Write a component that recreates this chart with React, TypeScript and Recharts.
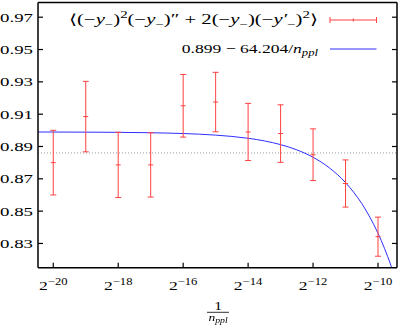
import {
    ComposedChart,
    ErrorBar,
    Legend,
    Line,
    ReferenceLine,
    Scatter,
    XAxis,
    YAxis,
} from "recharts";

// exponents n of 1/n_ppl = 2^n
export const powers = [-20, -19, -18, -17, -16, -15, -14, -13, -12, -11, -10];
export const meanValues = [
    0.880, 0.9085, 0.8786, 0.8786, 0.9152, 0.9175, 0.899, 0.898, 0.8849, 0.8671, 0.8342,
];
export const errorValues = [
    0.020, 0.0218, 0.0202, 0.0199, 0.0194, 0.0184, 0.0177, 0.0178, 0.016, 0.0146, 0.0121,
];

// fitted curve
export const fitPowers = [
    -20.47, -20, -19, -18, -17, -16, -15, -14, -13.5, -13, -12.5, -12, -11.5, -11, -10.5,
    -10.25, -10, -9.9, -9.8, -9.7, -9.6, -9.58,
];
export const fitValues = [
    0.89896, 0.89894, 0.89888, 0.89876, 0.89851, 0.89802, 0.89704, 0.89508, 0.89346,
    0.89116, 0.88792, 0.88333, 0.87683, 0.86765, 0.85467, 0.84628, 0.8363, 0.8318,
    0.82697, 0.8218, 0.81626, 0.81503,
];

export const xTicks = [-20, -18, -16, -14, -12, -10];
export const yTicks = [0.83, 0.85, 0.87, 0.89, 0.91, 0.93, 0.95, 0.97];
export const dottedLevel = 0.886;

const points = powers.map((x, i) => ({ x, y: meanValues[i], err: errorValues[i] }));
const fitCurve = fitPowers.map((x, i) => ({ x, fit: fitValues[i] }));

const SERIF = "'Liberation Serif', 'DejaVu Serif', serif";
const SX = 1.35;
const RED = "#ff4242";
const BLUE = "#2f2fff";
const X_DOMAIN: [number, number] = [-20.47, -9.415];
const Y_DOMAIN: [number, number] = [0.815, 0.9791];

type Seg = { t: string; it?: boolean; pos?: "sub" | "sup" };

function MathText({ segs, x, y, size = 13, anchor = "end", sx = SX }: any) {
    let cur = 0;
    return (
        <text
            transform={`translate(${x},${y}) scale(${sx},1)`}
            textAnchor={anchor}
            fontFamily={SERIF}
            fill="#000"
        >
            {segs.map((s: Seg, i: number) => {
                const target = s.pos === "sub" ? size * 0.25 : s.pos === "sup" ? -size * 0.4 : 0;
                const dy = target - cur;
                cur = target;
                return (
                    <tspan
                        key={i}
                        dy={dy}
                        fontStyle={s.it ? "italic" : "normal"}
                        fontSize={s.pos ? size * 0.72 : size}
                    >
                        {s.t}
                    </tspan>
                );
            })}
        </text>
    );
}

const dataLabel: Seg[] = [
    { t: "⟨(−" }, { t: "y", it: true }, { t: "−", pos: "sub" }, { t: ")" }, { t: "2", pos: "sup" },
    { t: "(−" }, { t: "y", it: true }, { t: "−", pos: "sub" }, { t: ")″ + 2(−" },
    { t: "y", it: true }, { t: "−", pos: "sub" }, { t: ")(−" }, { t: "y′", it: true },
    { t: "−", pos: "sub" }, { t: ")" }, { t: "2", pos: "sup" }, { t: "⟩" },
];
const fitLabel: Seg[] = [
    { t: "0.899 − 64.204/" }, { t: "n", it: true }, { t: "ppl", it: true, pos: "sub" },
];

function renderLegend() {
    return (
        <svg width={399} height={60} style={{ display: "block" }}>
            <MathText segs={dataLabel} x={318} y={24} size={14} sx={1.48} />
            <line x1={330} x2={376.5} y1={20} y2={20} stroke={RED} />
            <line x1={330} x2={330} y1={17} y2={23} stroke={RED} />
            <line x1={376.5} x2={376.5} y1={17} y2={23} stroke={RED} />
            <line x1={353.3} x2={353.3} y1={18.5} y2={21.5} stroke={RED} />
            <MathText segs={fitLabel} x={318} y={53} />
            <line x1={330} x2={376.5} y1={49} y2={49} stroke={BLUE} />
        </svg>
    );
}

function BottomTick({ x, y, payload }: any) {
    return (
        <g>
            <line x1={x} x2={x} y1={y} y2={y - 5} stroke="#000" strokeWidth={1.2} />
            <MathText
                segs={[{ t: "2" }, { t: "\u2212" + Math.abs(payload.value), pos: "sup" }]}
                x={x}
                y={y + 22.3}
                anchor="middle"
            />
        </g>
    );
}

function TopTick({ x, y }: any) {
    return <line x1={x} x2={x} y1={y} y2={y + 5} stroke="#000" strokeWidth={1.2} />;
}

function LeftTick({ x, y, payload }: any) {
    return (
        <g>
            <line x1={x} x2={x + 5} y1={y} y2={y} stroke="#000" strokeWidth={1.2} />
            <text
                transform={`translate(${x - 5},${y + 4.5}) scale(1.45,1)`}
                textAnchor="end"
                fontFamily={SERIF}
                fontSize={13}
                fill="#000"
            >
                {payload.value.toFixed(2)}
            </text>
        </g>
    );
}

function RightTick({ x, y }: any) {
    return <line x1={x} x2={x - 5} y1={y} y2={y} stroke="#000" strokeWidth={1.2} />;
}

function Dash({ cx, cy }: any) {
    return <line x1={cx - 2.5} x2={cx + 2.5} y1={cy} y2={cy} stroke={RED} />;
}

export default function App() {
    return (
        <div
            style={{
                position: "fixed",
                left: 0,
                top: 0,
                width: 399,
                height: 325,
                background: "#fff",
            }}
        >
            <ComposedChart
                width={399}
                height={325}
                margin={{ top: 0, right: 0, bottom: 0, left: 0 }}
            >
                <XAxis
                    dataKey="x"
                    type="number"
                    domain={X_DOMAIN}
                    ticks={xTicks}
                    allowDataOverflow
                    height={57.3}
                    tickSize={0}
                    tickMargin={0}
                    tickLine={false}
                    tick={<BottomTick />}
                    axisLine={{ stroke: "#000", strokeWidth: 1.5 }}
                />
                <XAxis
                    xAxisId="top"
                    orientation="top"
                    type="number"
                    domain={X_DOMAIN}
                    ticks={xTicks}
                    allowDataOverflow
                    height={2.5}
                    tickSize={0}
                    tickMargin={0}
                    tickLine={false}
                    tick={<TopTick />}
                    axisLine={{ stroke: "#000", strokeWidth: 1.5 }}
                />
                <YAxis
                    type="number"
                    domain={Y_DOMAIN}
                    ticks={yTicks}
                    allowDataOverflow
                    width={38}
                    tickSize={0}
                    tickMargin={0}
                    tickLine={false}
                    tick={<LeftTick />}
                    axisLine={{ stroke: "#000", strokeWidth: 1.5 }}
                />
                <YAxis
                    yAxisId="right"
                    orientation="right"
                    type="number"
                    domain={Y_DOMAIN}
                    ticks={yTicks}
                    allowDataOverflow
                    width={2}
                    tickSize={0}
                    tickMargin={0}
                    tickLine={false}
                    tick={<RightTick />}
                    axisLine={{ stroke: "#000", strokeWidth: 1.5 }}
                />
                <ReferenceLine
                    y={dottedLevel}
                    stroke="#999"
                    strokeDasharray="1 2"
                />
                <Line
                    data={fitCurve}
                    dataKey="fit"
                    type="monotone"
                    stroke={BLUE}
                    strokeWidth={1}
                    dot={false}
                    isAnimationActive={false}
                />
                <Scatter
                    data={points}
                    dataKey="y"
                    shape={<Dash />}
                    isAnimationActive={false}
                >
                    <ErrorBar
                        dataKey="err"
                        direction="y"
                        width={3}
                        stroke={RED}
                        strokeWidth={1}
                        isAnimationActive={false}
                    />
                </Scatter>
                <Legend
                    layout="horizontal"
                    verticalAlign="middle"
                    align="center"
                    wrapperStyle={{ top: 0, left: 0, width: 399, height: 60 }}
                    content={renderLegend}
                />
            </ComposedChart>
            <svg
                width={399}
                height={40}
                style={{ position: "absolute", left: 0, top: 290 }}
            >
                <text
                    transform={`translate(218,20) scale(${SX},1)`}
                    textAnchor="middle"
                    fontFamily={SERIF}
                    fontSize={11.5}
                >
                    1
                </text>
                <line x1={207} x2={229} y1={22.3} y2={22.3} stroke="#000" strokeWidth={0.8} />
                <MathText
                    segs={[{ t: "n", it: true }, { t: "ppl", it: true, pos: "sub" }]}
                    x={218}
                    y={30.5}
                    size={10}
                    anchor="middle"
                />
            </svg>
        </div>
    );
}
